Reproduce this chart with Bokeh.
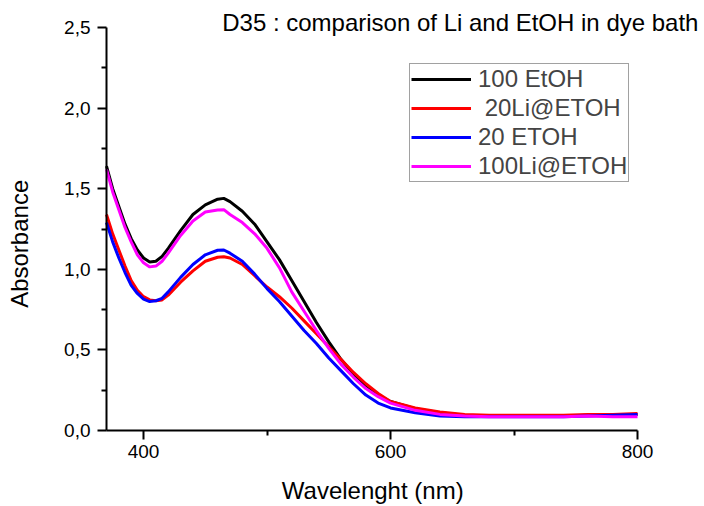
import math
from bokeh.plotting import figure
from bokeh.models import (Range1d, FixedTicker, CustomJSTickFormatter, Legend, LegendItem,
                          Label, LinearAxis)
from bokeh.embed import file_html
from bokeh.resources import INLINE

wavelength = [370, 375, 380, 385, 390, 395, 400, 405, 410, 415, 420, 430, 440, 450, 460, 465,
              470, 480, 490, 500, 510, 520, 530, 540, 550, 560, 570, 580, 590, 600, 620, 640,
              660, 680, 700, 720, 740, 760, 780, 800]

etoh_100 = [1.64, 1.50, 1.39, 1.28, 1.19, 1.12, 1.07, 1.045, 1.05, 1.08, 1.13, 1.24, 1.34, 1.40, 1.435, 1.44,
            1.42, 1.36, 1.28, 1.17, 1.06, 0.93, 0.80, 0.67, 0.55, 0.44, 0.35, 0.28, 0.22, 0.18, 0.135, 0.11,
            0.095, 0.09, 0.09, 0.09, 0.09, 0.095, 0.095, 0.10]

li20_etoh = [1.34, 1.22, 1.12, 1.02, 0.93, 0.87, 0.83, 0.81, 0.805, 0.81, 0.84, 0.92, 0.99, 1.05, 1.075, 1.078,
             1.07, 1.03, 0.96, 0.89, 0.83, 0.76, 0.68, 0.60, 0.52, 0.44, 0.36, 0.29, 0.23, 0.18, 0.14, 0.115,
             0.10, 0.095, 0.095, 0.095, 0.095, 0.10, 0.10, 0.105]

etoh_20 = [1.29, 1.17, 1.07, 0.98, 0.90, 0.85, 0.815, 0.80, 0.805, 0.82, 0.86, 0.95, 1.03, 1.09, 1.118, 1.12,
           1.10, 1.05, 0.97, 0.88, 0.80, 0.71, 0.62, 0.54, 0.45, 0.37, 0.29, 0.22, 0.17, 0.14, 0.11, 0.09,
           0.085, 0.085, 0.085, 0.085, 0.085, 0.09, 0.095, 0.10]

li100_etoh = [1.62, 1.48, 1.37, 1.26, 1.17, 1.09, 1.04, 1.015, 1.02, 1.05, 1.10, 1.21, 1.30, 1.355, 1.368, 1.37,
              1.34, 1.29, 1.22, 1.13, 1.01, 0.86, 0.74, 0.62, 0.51, 0.41, 0.33, 0.26, 0.21, 0.17, 0.125, 0.10,
              0.09, 0.085, 0.085, 0.085, 0.085, 0.09, 0.085, 0.085]

series_names = ["100 EtOH", " 20Li@ETOH", "20 ETOH", "100Li@ETOH"]
series_values = [etoh_100, li20_etoh, etoh_20, li100_etoh]
series_colors = ["#000000", "#ff0000", "#0000ff", "#ff00ff"]

x_major = [400, 600, 800]
x_minor = [500, 700]
y_major = [0.0, 0.5, 1.0, 1.5, 2.0, 2.5]
y_minor = [0.25, 0.75, 1.25, 1.75, 2.25]
x_bounds = (370, 800)
y_bounds = (0, 2.5)

title_text = "D35 : comparison of Li and EtOH in dye bath"
x_label = "Wavelenght (nm)"
y_label = "Absorbance"
FONT = "Liberation Sans"

# The plotting frame fills the whole canvas; axes are drawn at fixed data locations
W, H = 704, 506
px_left, px_right, px_top, px_bottom = 106, 637, 27, 430
sx = (px_right - px_left) / (x_bounds[1] - x_bounds[0])
sy = (px_bottom - px_top) / (y_bounds[1] - y_bounds[0])
x0 = x_bounds[0] - px_left / sx
x1 = x_bounds[1] + (W - px_right) / sx
y0 = y_bounds[0] - (H - px_bottom) / sy
y1 = y_bounds[1] + px_top / sy

def xd(px):
    return x0 + px / sx

def yd(py):
    return y0 + (H - py) / sy

p = figure(width=W, height=H, output_backend="svg", toolbar_location=None,
           x_range=Range1d(x0, x1), y_range=Range1d(y0, y1),
           x_axis_location=None, y_axis_location=None, min_border=0)
p.outline_line_color = None
p.grid.visible = False
p.background_fill_color = "white"
p.border_fill_color = "white"

items = []
for name, vals, col in zip(series_names, series_values, series_colors):
    r = p.line(wavelength, vals, line_color=col, line_width=3)
    items.append(LegendItem(label=name, renderers=[r]))

xaxis = LinearAxis(fixed_location=y_bounds[0], bounds=x_bounds,
                   ticker=FixedTicker(ticks=x_major, minor_ticks=x_minor))
yaxis = LinearAxis(fixed_location=x_bounds[0], bounds=y_bounds,
                   ticker=FixedTicker(ticks=y_major, minor_ticks=y_minor),
                   formatter=CustomJSTickFormatter(code="return tick.toFixed(1).replace('.', ',');"))
for ax in (xaxis, yaxis):
    ax.axis_line_width = 2
    ax.major_tick_line_width = 2
    ax.minor_tick_line_width = 2
    ax.major_tick_in = 0
    ax.major_tick_out = 9
    ax.minor_tick_in = 0
    ax.minor_tick_out = 5
    ax.major_label_text_font = FONT
    ax.major_label_text_font_size = "19px"
    ax.major_label_text_color = "black"
xaxis.major_label_standoff = 5
yaxis.major_label_standoff = 7
p.add_layout(xaxis, "below")
p.add_layout(yaxis, "left")

legend = Legend(items=items, location=(409, H - 182), label_text_font=FONT,
                label_text_font_size="24px", glyph_width=60, glyph_height=28,
                label_height=28, label_standoff=7, padding=1, spacing=1, margin=0,
                border_line_color="#444444", border_line_width=1,
                background_fill_alpha=1.0)
p.add_layout(legend)

p.add_layout(Label(x=xd(221.7), y=yd(21.7), text=title_text, text_font=FONT,
                   text_font_size="24px", text_align="left", text_baseline="alphabetic",
                   text_color="black"))
p.add_layout(Label(x=xd(372.2), y=yd(490.0), text=x_label, text_font=FONT,
                   text_font_size="24px", text_align="center", text_baseline="alphabetic",
                   text_color="black"))
p.add_layout(Label(x=xd(18.5), y=yd(243.3), text=y_label, text_font=FONT, angle=math.pi / 2,
                   text_font_size="24px", text_align="center", text_baseline="alphabetic",
                   text_color="black"))

open("out.html", "w").write(file_html(p, INLINE))
